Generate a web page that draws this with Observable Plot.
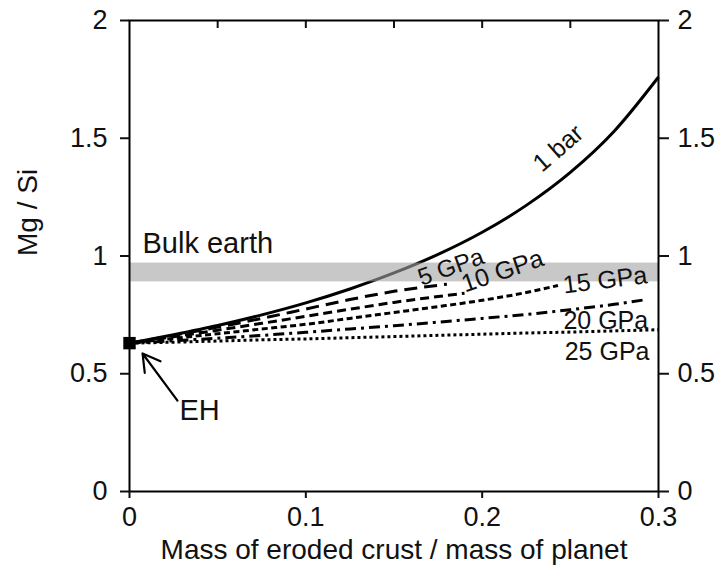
<!DOCTYPE html>
<html><head><meta charset="utf-8">
<script src="https://cdn.jsdelivr.net/npm/d3@7"></script>
<script src="https://cdn.jsdelivr.net/npm/@observablehq/plot@0.6"></script>
<style>body{margin:0;background:#fff;}</style>
</head><body><div id="chart"></div>
<script>
// Mass of eroded crust / mass of planet (x) and Mg/Si (y) for each pressure
const x1bar = [0,0.025,0.05,0.075,0.1,0.125,0.15,0.175,0.2,0.225,0.25,0.275,0.3];
const mg1bar = [0.63,0.666,0.705,0.750,0.801,0.860,0.928,1.007,1.101,1.215,1.355,1.531,1.76];
const x5 = [0,0.025,0.05,0.075,0.1,0.125,0.15,0.18];
const mg5 = [0.63,0.663,0.698,0.735,0.775,0.815,0.85,0.88];
const x10 = [0,0.025,0.05,0.075,0.1,0.125,0.15,0.175,0.19];
const mg10 = [0.63,0.657,0.685,0.714,0.744,0.774,0.803,0.828,0.842];
const x15 = [0,0.025,0.05,0.075,0.1,0.125,0.15,0.175,0.2,0.225,0.243];
const mg15 = [0.63,0.65,0.67,0.69,0.71,0.735,0.76,0.785,0.812,0.845,0.875];
const x20 = [0,0.025,0.05,0.075,0.1,0.125,0.15,0.175,0.2,0.225,0.25,0.275,0.293];
const mg20 = [0.63,0.64,0.651,0.663,0.676,0.69,0.704,0.719,0.735,0.752,0.772,0.795,0.815];
const x25 = [0,0.025,0.05,0.075,0.1,0.125,0.15,0.175,0.2,0.225,0.25,0.275,0.3];
const mg25 = [0.63,0.634,0.639,0.644,0.648,0.653,0.658,0.663,0.668,0.673,0.677,0.682,0.687];
const seriesNames = ["1 bar","5 GPa","10 GPa","15 GPa","20 GPa","25 GPa"];
const bulkEarth = [0.89, 0.97];
const ehPoint = {name: "EH", x: 0, y: 0.63};
const xTicks = [0, 0.1, 0.2, 0.3];
const xMinorTicks = [0.05, 0.1, 0.15, 0.2, 0.25];
const yTicks = [0, 0.5, 1, 1.5, 2];

const xsAll = [x1bar, x5, x10, x15, x20, x25];
const ysAll = [mg1bar, mg5, mg10, mg15, mg20, mg25];
const series = seriesNames.map((name, i) => xsAll[i].map((x, j) => ({name, x, y: ysAll[i][j]})));
const last = s => [s[s.length - 1]];

const dashes = ["none", "13,7", "9,5", "6,3.5", "11,5,3,5", "3,3"];
const font = "Liberation Sans, Arial, Helvetica, sans-serif";

const lineMarks = series.map((s, i) => Plot.line(s, {x: "x", y: "y", curve: "monotone-x", stroke: "black", strokeWidth: 3, strokeDasharray: dashes[i], strokeLinecap: "butt"}));

const chart = Plot.plot({
  width: 720, height: 572,
  marginLeft: 129, marginRight: 62, marginTop: 20, marginBottom: 81,
  style: {fontFamily: font, fontSize: "27px", color: "#111", background: "#fff"},
  x: {domain: [0, 0.3]},
  y: {domain: [0, 2]},
  marks: [
    ...lineMarks,
    Plot.rect([bulkEarth], {x1: 0, x2: 0.3, y1: d => d[0], y2: d => d[1], fill: "#a4a4a4", fillOpacity: 0.6}),
    Plot.frame({stroke: "black", strokeWidth: 2}),
    Plot.axisX({ticks: xTicks, tickSize: 7, tickPadding: 8, tickFormat: d => String(d), label: null, strokeWidth: 2, fontSize: 27}),
    Plot.axisX({anchor: "top", ticks: xMinorTicks, tickSize: -7, tickFormat: () => "", label: null, strokeWidth: 2}),
    Plot.axisY({anchor: "left", ticks: yTicks, tickSize: 9, tickPadding: 13, tickFormat: d => String(d), label: null, strokeWidth: 2, fontSize: 27}),
    Plot.axisY({anchor: "right", ticks: yTicks, tickSize: 10, tickPadding: 9, tickFormat: d => String(d), label: null, strokeWidth: 2, fontSize: 27}),
    Plot.dot([ehPoint], {x: "x", y: "y", symbol: "square", r: 7, fill: "black"}),
    Plot.arrow([ehPoint], {x1: d => d.x + 0.0272, y1: d => d.y - 0.244, x2: d => d.x + 0.0074, y2: d => d.y - 0.044, stroke: "black", strokeWidth: 2.2, headLength: 14, bend: false}),
    Plot.text([ehPoint], {x: "x", y: "y", text: "name", dx: 50, dy: 68, textAnchor: "start", fontSize: 29}),
    Plot.text([bulkEarth], {x: 0, y: d => d[1], text: () => "Bulk earth", dx: 13, dy: -19, textAnchor: "start", fontSize: 29}),
    Plot.text([series[0][10]], {x: "x", y: "y", text: "name", dx: -12, dy: -24, rotate: -41, fontSize: 25}),
    Plot.text(last(series[1]), {x: "x", y: "y", text: "name", dx: 4, dy: -17, rotate: -20, fontSize: 24}),
    Plot.text(last(series[2]), {x: "x", y: "y", text: "name", dx: 38, dy: -22, rotate: -19, fontSize: 25}),
    Plot.text(last(series[3]), {x: "x", y: "y", text: "name", dx: 5, dy: 0, rotate: -7, textAnchor: "start", fontSize: 25}),
    Plot.text(last(series[4]), {x: "x", y: "y", text: "name", dx: 2, dy: 21, textAnchor: "end", fontSize: 25}),
    Plot.text(last(series[5]), {x: "x", y: "y", text: "name", dx: -9, dy: 22, textAnchor: "end", fontSize: 25}),
    Plot.text(["Mg / Si"], {frameAnchor: "left", dx: -101, rotate: -90, fontSize: 28}),
    Plot.text(["Mass of eroded crust / mass of planet"], {frameAnchor: "bottom", dy: 67, fontSize: 28})
  ]
});
document.getElementById("chart").appendChild(chart);
</script>
</body></html>
